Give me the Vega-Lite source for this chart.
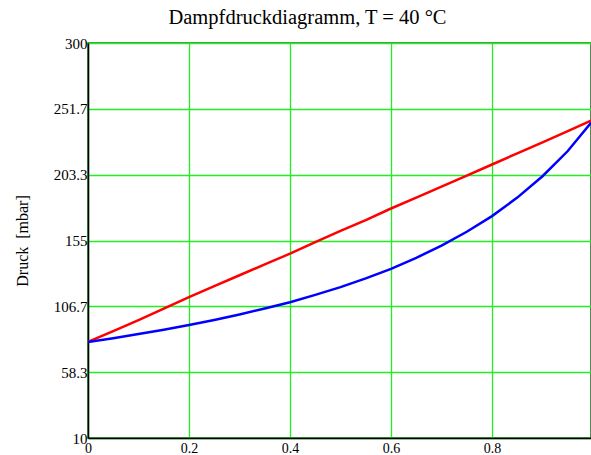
{
  "$schema": "https://vega.github.io/schema/vega-lite/v6.json",
  "width": 503,
  "height": 395,
  "autosize": {"type": "none"},
  "padding": {"left": 88, "top": 43, "right": 0, "bottom": 17},
  "background": "white",
  "title": {
    "text": "Dampfdruckdiagramm, T = 40 °C",
    "font": "Liberation Serif",
    "fontSize": 20.5,
    "fontWeight": "normal",
    "color": "black",
    "anchor": "middle",
    "dx": -32,
    "offset": 8
  },
  "config": {
    "view": {"stroke": "#1f5f1f", "strokeWidth": 1.5},
    "axis": {
      "labelFont": "Liberation Serif",
      "labelFontSize": 14,
      "labelColor": "black",
      "titleFont": "Liberation Serif",
      "titleFontWeight": "normal",
      "titleColor": "black",
      "domainColor": "black",
      "domainWidth": 1.5,
      "gridColor": "#22ee22",
      "gridWidth": 1.3,
      "gridOpacity": 1,
      "ticks": false
    }
  },
  "data": {
    "values": [
      {"x": 0, "p": 80.5, "s": "Flüssigkeit"},
      {"x": 0.05, "p": 88.5, "s": "Flüssigkeit"},
      {"x": 0.1, "p": 96.6, "s": "Flüssigkeit"},
      {"x": 0.15, "p": 105, "s": "Flüssigkeit"},
      {"x": 0.2, "p": 113.5, "s": "Flüssigkeit"},
      {"x": 0.25, "p": 121.5, "s": "Flüssigkeit"},
      {"x": 0.3, "p": 129.5, "s": "Flüssigkeit"},
      {"x": 0.35, "p": 137.4, "s": "Flüssigkeit"},
      {"x": 0.4, "p": 145.3, "s": "Flüssigkeit"},
      {"x": 0.45, "p": 153.8, "s": "Flüssigkeit"},
      {"x": 0.5, "p": 162, "s": "Flüssigkeit"},
      {"x": 0.55, "p": 170, "s": "Flüssigkeit"},
      {"x": 0.6, "p": 178.5, "s": "Flüssigkeit"},
      {"x": 0.65, "p": 186.5, "s": "Flüssigkeit"},
      {"x": 0.7, "p": 194.5, "s": "Flüssigkeit"},
      {"x": 0.75, "p": 202.6, "s": "Flüssigkeit"},
      {"x": 0.8, "p": 210.8, "s": "Flüssigkeit"},
      {"x": 0.85, "p": 219, "s": "Flüssigkeit"},
      {"x": 0.9, "p": 227, "s": "Flüssigkeit"},
      {"x": 0.95, "p": 235.3, "s": "Flüssigkeit"},
      {"x": 0.996, "p": 243, "s": "Flüssigkeit"},
      {"x": 0, "p": 80.5, "s": "Dampf"},
      {"x": 0.05, "p": 83.3, "s": "Dampf"},
      {"x": 0.1, "p": 86.3, "s": "Dampf"},
      {"x": 0.15, "p": 89.5, "s": "Dampf"},
      {"x": 0.2, "p": 92.9, "s": "Dampf"},
      {"x": 0.25, "p": 96.7, "s": "Dampf"},
      {"x": 0.3, "p": 100.7, "s": "Dampf"},
      {"x": 0.35, "p": 105.1, "s": "Dampf"},
      {"x": 0.4, "p": 109.7, "s": "Dampf"},
      {"x": 0.45, "p": 115.1, "s": "Dampf"},
      {"x": 0.5, "p": 120.8, "s": "Dampf"},
      {"x": 0.55, "p": 127.2, "s": "Dampf"},
      {"x": 0.6, "p": 134.2, "s": "Dampf"},
      {"x": 0.65, "p": 142.3, "s": "Dampf"},
      {"x": 0.7, "p": 151.2, "s": "Dampf"},
      {"x": 0.75, "p": 161.4, "s": "Dampf"},
      {"x": 0.8, "p": 172.9, "s": "Dampf"},
      {"x": 0.85, "p": 186.5, "s": "Dampf"},
      {"x": 0.9, "p": 202.2, "s": "Dampf"},
      {"x": 0.95, "p": 220.7, "s": "Dampf"},
      {"x": 0.996, "p": 241.5, "s": "Dampf"}
    ]
  },
  "mark": {"type": "line", "strokeWidth": 2.5, "clip": true},
  "encoding": {
    "x": {
      "field": "x",
      "type": "quantitative",
      "scale": {"domain": [0, 0.996], "nice": false, "zero": false},
      "axis": {
        "values": [0, 0.2, 0.4, 0.6, 0.8],
        "labelExpr": "'' + datum.value",
        "labelFont": "Liberation Serif",
        "labelFontSize": 14,
        "title": null,
        "labelPadding": 3,
        "labelFlush": false
      }
    },
    "y": {
      "field": "p",
      "type": "quantitative",
      "scale": {"domain": [10, 300], "nice": false, "zero": false},
      "axis": {
        "values": [10, 58.3, 106.7, 155, 203.3, 251.7, 300],
        "labelExpr": "'' + datum.value",
        "labelFont": "Liberation Serif",
        "labelFontSize": 15,
        "title": "Druck\u00a0 [mbar]",
        "titleFont": "Liberation Serif",
        "titleFontSize": 16,
        "titleAngle": 270,
        "titleBaseline": "middle",
        "titleAlign": "center",
        "titleX": -66,
        "titleY": 197.5,
        "labelPadding": 1,
        "labelFlush": false
      }
    },
    "color": {
      "field": "s",
      "type": "nominal",
      "scale": {"domain": ["Flüssigkeit", "Dampf"], "range": ["#ff0000", "#0000ff"]},
      "legend": null
    }
  }
}
